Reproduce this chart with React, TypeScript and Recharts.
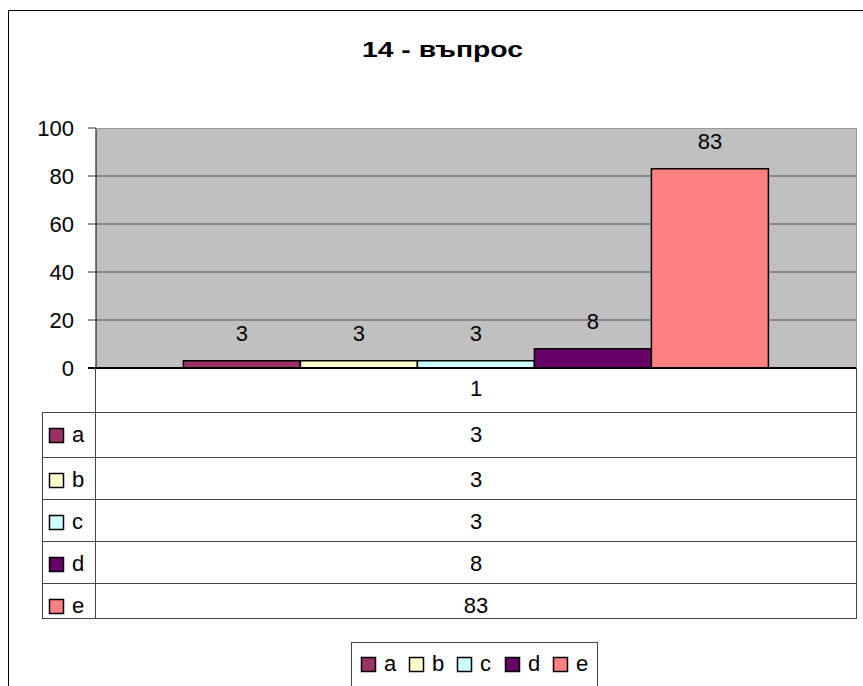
import { BarChart, Bar, XAxis, YAxis, CartesianGrid, LabelList } from "recharts";

const title = "14 - въпрос";
const categories = ["1"];
const seriesNames = ["a", "b", "c", "d", "e"];
const seriesValues = [3, 3, 3, 8, 83];
const yTicks = [0, 20, 40, 60, 80, 100];

const colors = ["#993366", "#FFFFCC", "#CCFFFF", "#660066", "#FF8080"];
const font = "'Liberation Sans', Arial, sans-serif";

const data = categories.map((name) => {
  const row: Record<string, string | number> = { name };
  seriesNames.forEach((s, i) => {
    row[s] = seriesValues[i];
  });
  return row;
});

// layout of the plot and data table, in page pixels
const W = 863;
const H = 686;
const plotLeft = 96;
const plotRight = 856;
const plotTop = 128;
const plotBottom = 368;
const tableLeft = 42;
const rowTops = [412, 457, 499, 541, 583];
const tableBottom = 618;
const lineColor = "#444";

function DataTable() {
  const colCenter = (plotLeft + plotRight) / 2;
  return (
    <g fontFamily={font} fontSize={22} fill="#000">
      {/* category row */}
      <text x={colCenter} y={396} textAnchor="middle">
        {categories[0]}
      </text>
      {seriesNames.map((s, i) => {
        const top = rowTops[i];
        const base = top + 30;
        return (
          <g key={s}>
            <line x1={tableLeft} x2={plotRight} y1={top + 0.5} y2={top + 0.5} stroke={lineColor} />
            <rect x={49.5} y={base - 13.5} width={14} height={14} fill={colors[i]} stroke="#000" strokeWidth={1.5} />
            <text x={72} y={base}>
              {s}
            </text>
            <text x={colCenter} y={base} textAnchor="middle">
              {seriesValues[i]}
            </text>
          </g>
        );
      })}
      <line x1={tableLeft} x2={plotRight} y1={tableBottom + 0.5} y2={tableBottom + 0.5} stroke={lineColor} />
      <line x1={tableLeft + 0.5} x2={tableLeft + 0.5} y1={rowTops[0]} y2={tableBottom + 1} stroke={lineColor} />
      <line x1={plotLeft - 0.5} x2={plotLeft - 0.5} y1={plotBottom} y2={tableBottom + 1} stroke={lineColor} />
      <line x1={plotRight + 0.5} x2={plotRight + 0.5} y1={plotBottom} y2={tableBottom + 1} stroke={lineColor} />
    </g>
  );
}

function BottomLegend() {
  return (
    <g fontFamily={font} fontSize={22} fill="#000">
      <rect x={351.5} y={642.5} width={246} height={60} fill="#fff" stroke={lineColor} />
      {seriesNames.map((s, i) => {
        const x = 361 + i * 48;
        return (
          <g key={s}>
            <rect x={x + 0.5} y={657.5} width={14} height={14} fill={colors[i]} stroke="#000" strokeWidth={1.5} />
            <text x={x + 23} y={671}>
              {s}
            </text>
          </g>
        );
      })}
    </g>
  );
}

export default function App() {
  return (
    <div style={{ position: "absolute", left: 0, top: 0, width: W, height: H, overflow: "hidden", background: "#fff" }}>
      <div style={{ position: "absolute", left: 0, top: 0 }}>
        <BarChart
          width={W}
          height={H}
          data={data}
          margin={{ top: plotTop, right: W - plotRight, bottom: H - plotBottom, left: plotLeft - 60 }}
          barCategoryGap="11.5%"
          barGap={0}
        >
          <CartesianGrid vertical={false} fill="#C0C0C0" stroke="#555" horizontalValues={[20, 40, 60, 80]} />
          <XAxis dataKey="name" hide height={0} />
          <YAxis
            width={60}
            domain={[0, 100]}
            ticks={yTicks}
            interval={0}
            tickSize={8}
            tickMargin={14}
            axisLine={{ stroke: "#000" }}
            tickLine={{ stroke: "#333" }}
            tick={{ fontSize: 22, fill: "#000", fontFamily: font }}
          />
          {seriesNames.map((s, i) => (
            <Bar key={s} dataKey={s} fill={colors[i]} stroke="#000" strokeWidth={1.5} isAnimationActive={false}>
              <LabelList dataKey={s} position="top" offset={20} fill="#000" style={{ fontSize: 22, fontFamily: font }} />
            </Bar>
          ))}
        </BarChart>
      </div>
      <svg width={W} height={H} style={{ position: "absolute", left: 0, top: 0, pointerEvents: "none" }}>
        {/* outer chart border */}
        <line x1={8.5} x2={8.5} y1={10} y2={H} stroke="#000" />
        <line x1={8} x2={W} y1={10.5} y2={10.5} stroke="#000" />
        <text
          x={442.5}
          y={57}
          textAnchor="middle"
          fontFamily={font}
          fontSize={22}
          fontWeight="bold"
          fill="#000"
          textLength={161}
          lengthAdjust="spacingAndGlyphs"
        >
          {title}
        </text>
        {/* plot area border */}
        <line x1={plotLeft} x2={plotRight} y1={plotTop + 0.5} y2={plotTop + 0.5} stroke="#999" />
        <line x1={plotRight + 0.5} x2={plotRight + 0.5} y1={plotTop} y2={plotBottom} stroke="#999" />
        {/* category axis */}
        <line x1={plotLeft - 8} x2={plotRight} y1={plotBottom} y2={plotBottom} stroke="#000" strokeWidth={2} />
        <DataTable />
        <BottomLegend />
      </svg>
    </div>
  );
}
